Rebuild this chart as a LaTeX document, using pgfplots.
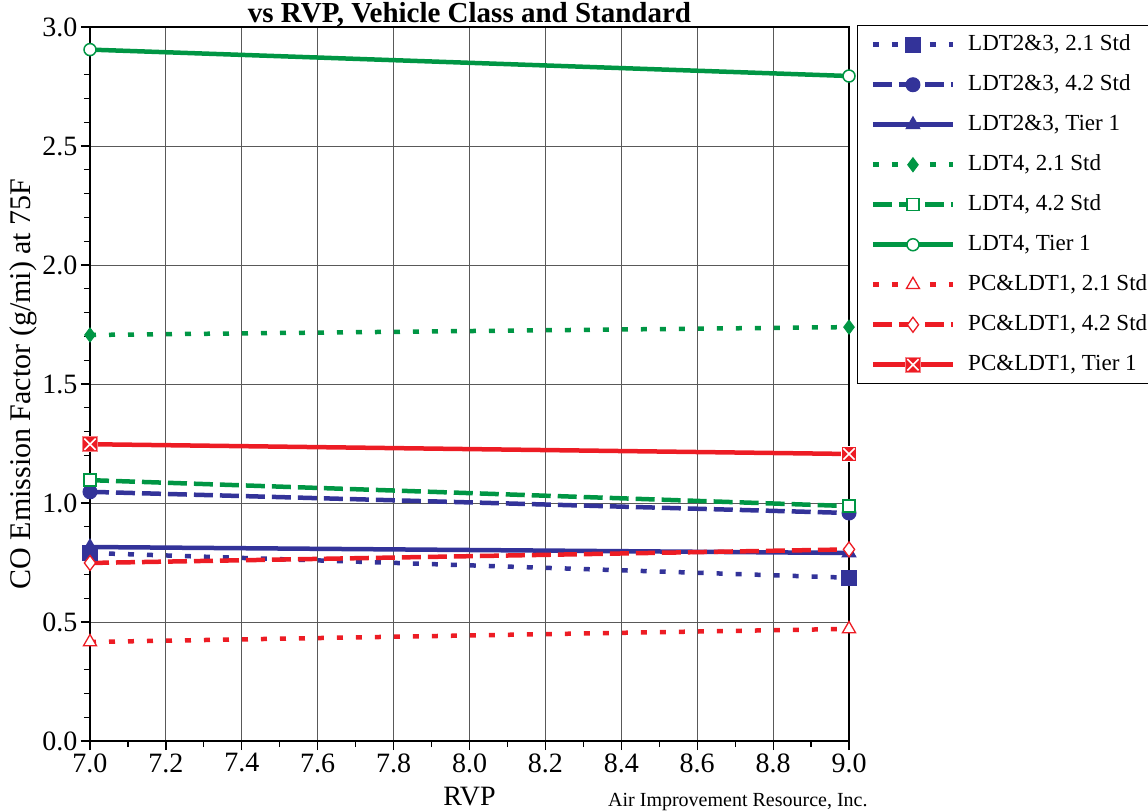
\documentclass[border=0pt]{standalone}
\usepackage{fontspec}
\setmainfont{Liberation Serif}
\usepackage{pgfplots}
\pgfplotsset{compat=1.18}
\definecolor{cblue}{RGB}{51,51,153}
\definecolor{cgreen}{RGB}{0,150,68}
\definecolor{cred}{RGB}{237,28,36}
\pgfdeclareplotmark{sqx}{%
  \pgfpathrectangle{\pgfqpoint{-\pgfplotmarksize}{-\pgfplotmarksize}}{\pgfqpoint{2\pgfplotmarksize}{2\pgfplotmarksize}}%
  \pgfusepathqfillstroke
  \pgfsetstrokecolor{white}%
  \pgfsetlinewidth{1.6pt}%
  \pgfpathmoveto{\pgfqpoint{-.75\pgfplotmarksize}{-.75\pgfplotmarksize}}%
  \pgfpathlineto{\pgfqpoint{.75\pgfplotmarksize}{.75\pgfplotmarksize}}%
  \pgfpathmoveto{\pgfqpoint{-.75\pgfplotmarksize}{.75\pgfplotmarksize}}%
  \pgfpathlineto{\pgfqpoint{.75\pgfplotmarksize}{-.75\pgfplotmarksize}}%
  \pgfusepathqstroke
}
\begin{document}
\begin{tikzpicture}[x=1pt,y=1pt]
\useasboundingbox (0,0) rectangle (1148,811);
\begin{axis}[
  at={(90pt,70pt)}, anchor=south west,
  scale only axis, width=759pt, height=714pt,
  xmin=7, xmax=9, ymin=0, ymax=3,
  xtick={7,7.2,7.4,7.6,7.8,8,8.2,8.4,8.6,8.8,9},
  minor xtick={7.1,7.3,7.5,7.7,7.9,8.1,8.3,8.5,8.7,8.9},
  ytick={0,0.5,1,1.5,2,2.5,3},
  minor ytick={0.1,0.2,0.3,0.4,0.6,0.7,0.8,0.9,1.1,1.2,1.3,1.4,1.6,1.7,1.8,1.9,2.1,2.2,2.3,2.4,2.6,2.7,2.8,2.9},
  xtick pos=left, ytick pos=left,
  grid=major,
  major grid style={black!65, line width=0.9pt},
  tick align=outside, major tick length=9pt, minor tick length=6pt,
  every tick/.style={black, line width=1.2pt},
  axis line style={line width=2.5pt},
  /pgf/number format/assume math mode=true,
  /pgf/number format/.cd, fixed, fixed zerofill, precision=1, /pgfplots/.cd,
  ticklabel style={font=\fontsize{28}{28}\selectfont},
  title={vs RVP, Vehicle Class and Standard},
  title style={font=\bfseries\fontsize{29}{29}\selectfont, at={(axis description cs:0.5,0.9975)}, anchor=base},
  xlabel={RVP},
  xlabel style={font=\fontsize{28}{28}\selectfont, at={(axis description cs:0.5,-0.090)}, anchor=base},
  ylabel={CO Emission Factor (g/mi) at 75F},
  ylabel style={font=\fontsize{30}{30}\selectfont, at={(axis description cs:-0.0876,0.5)}, anchor=center},
  legend style={at={(axis description cs:1.0105,1.0028)}, anchor=north west, draw=black, line width=1.5pt,
    font=\fontsize{23}{23}\selectfont, row sep=18pt, column sep=13pt, inner xsep=3pt, inner ysep=8pt,
    nodes={inner sep=0pt, text height=17pt, text depth=5pt}},
  legend cell align=left,
  legend image code/.code={\path (0pt,0pt); \draw[mark repeat=2,mark phase=2,#1] plot coordinates {(10pt,0pt) (50pt,0pt) (90pt,0pt)};},
]
\addplot[cblue, line width=4.5pt, dash pattern=on 6pt off 13pt, mark=square*, mark size=7.5pt, mark options={solid, line width=1pt}] coordinates {(7,0.79) (9,0.686)};
\addlegendentry{LDT2\&3, 2.1 Std}
\addplot[cblue, line width=4.5pt, dash pattern=on 19pt off 7pt, mark=*, mark size=7pt, mark options={solid, line width=1pt}] coordinates {(7,1.047) (9,0.958)};
\addlegendentry{LDT2\&3, 4.2 Std}
\addplot[cblue, line width=4.5pt, mark=triangle*, mark size=8pt, mark options={solid, line width=1pt}] coordinates {(7,0.815) (9,0.79)};
\addlegendentry{LDT2\&3, Tier 1}
\addplot[cgreen, line width=4.5pt, dash pattern=on 6pt off 13pt, mark=diamond*, mark size=7pt, mark options={solid, line width=1pt}] coordinates {(7,1.706) (9,1.739)};
\addlegendentry{LDT4, 2.1 Std}
\addplot[cgreen, line width=4.5pt, dash pattern=on 19pt off 7pt, mark=square*, mark size=6pt, mark options={solid, fill=white, line width=1.5pt}] coordinates {(7,1.096) (9,0.987)};
\addlegendentry{LDT4, 4.2 Std}
\addplot[cgreen, line width=4.5pt, mark=*, mark size=6pt, mark options={solid, fill=white, line width=1.5pt}] coordinates {(7,2.905) (9,2.794)};
\addlegendentry{LDT4, Tier 1}
\addplot[cred, line width=4.5pt, dash pattern=on 6pt off 13pt, mark=triangle*, mark size=7.5pt, mark options={solid, fill=white, line width=1.3pt}] coordinates {(7,0.416) (9,0.471)};
\addlegendentry{PC\&LDT1, 2.1 Std}
\addplot[cred, line width=4.5pt, dash pattern=on 19pt off 7pt, mark=diamond*, mark size=7.5pt, mark options={solid, fill=white, line width=1.3pt}] coordinates {(7,0.748) (9,0.805)};
\addlegendentry{PC\&LDT1, 4.2 Std}
\addplot[cred, line width=4.5pt, mark=sqx, mark size=7.5pt, mark options={solid, fill=cred, draw=cred!55, line width=1pt}] coordinates {(7,1.247) (9,1.206)};
\addlegendentry{PC\&LDT1, Tier 1}
\end{axis}
\node[anchor=base west, font=\fontsize{20}{20}\selectfont, inner sep=0pt] at (608,5) {Air Improvement Resource, Inc.};
\end{tikzpicture}
\end{document}
